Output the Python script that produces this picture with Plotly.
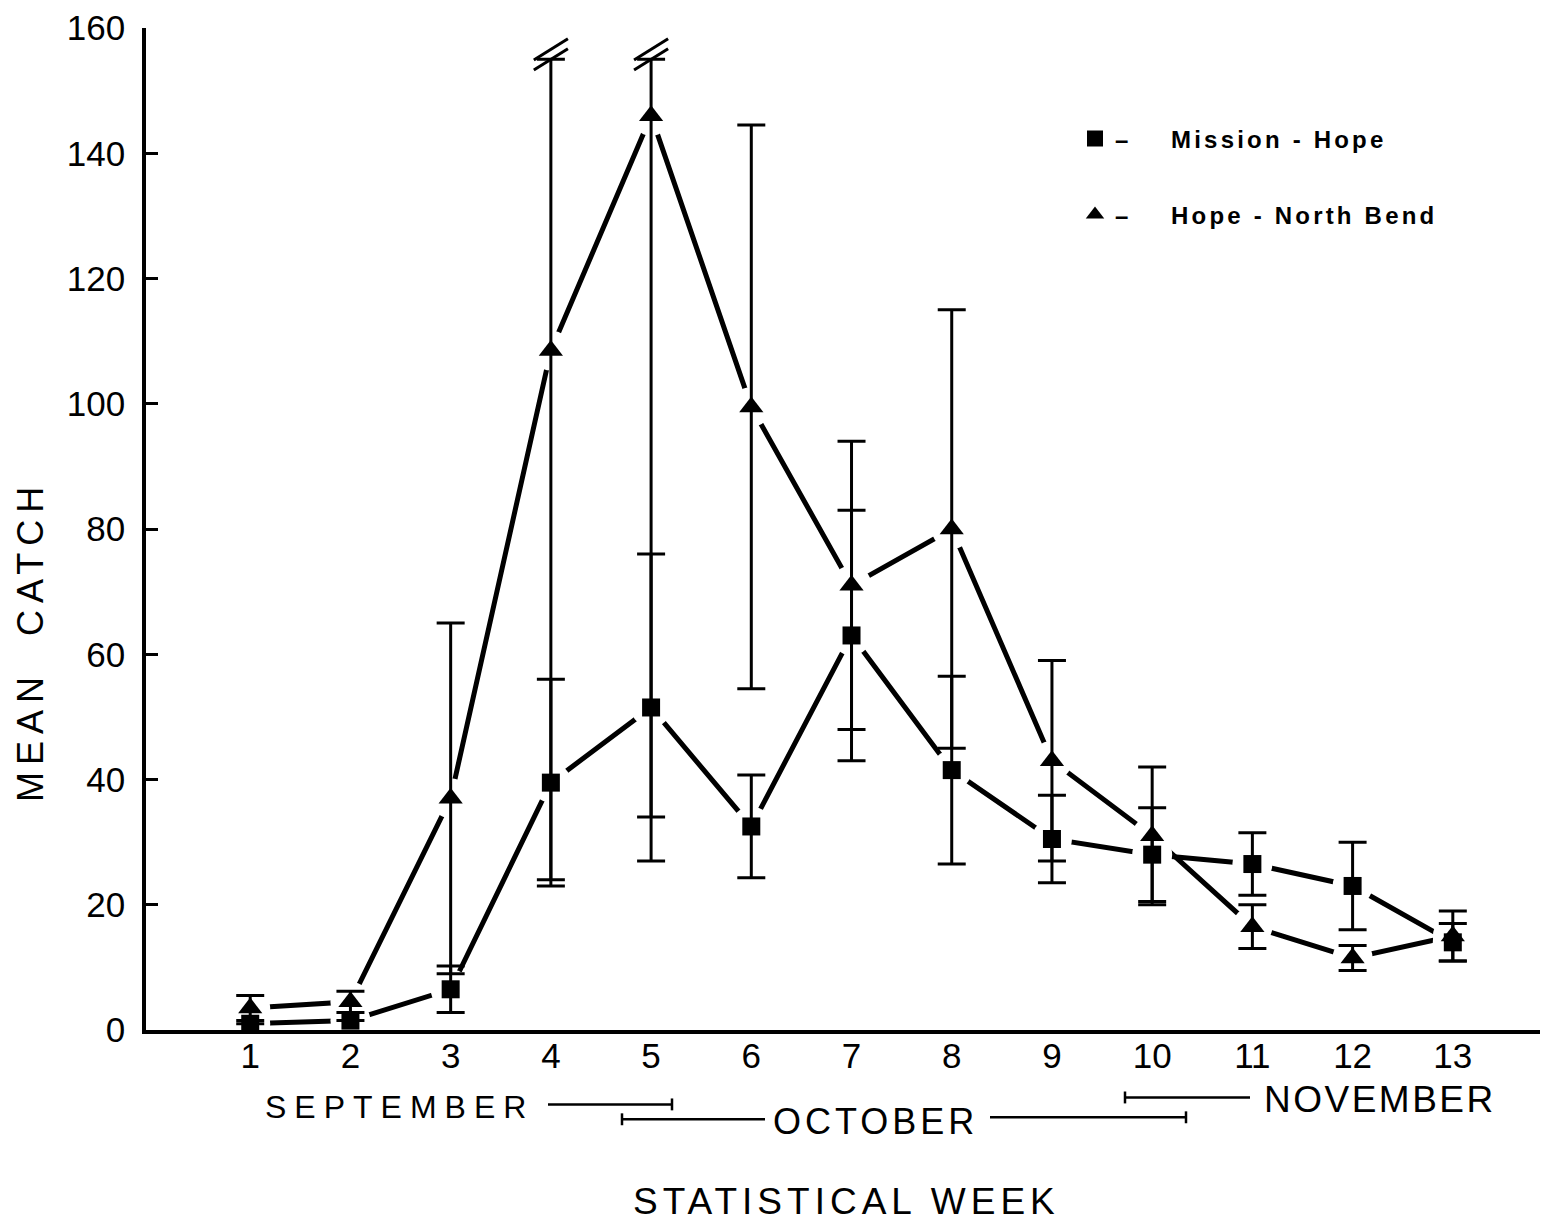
import plotly.graph_objects as go

# ---------------- data ----------------
weeks = list(range(1, 14))
week_labels = [str(w) for w in weeks]

mission_hope_mean = [1.0, 1.5, 6.5, 39.5, 51.5, 32.5, 63.0, 41.5, 30.5, 28.0, 26.5, 23.0, 14.0]
mission_hope_err = [0.0, 0.0, 3.7, 16.5, 24.5, 8.2, 20.0, 15.0, 7.0, 7.5, 5.0, 7.0, 3.0]

hope_nb_mean = [3.5, 4.5, 37.0, 108.5, 146.0, 99.5, 71.0, 80.0, 43.0, 31.0, 16.5, 11.5, 15.0]
hope_nb_err = [2.0, 1.7, 28.0, 84.5, 112.0, 45.0, 23.0, 35.0, 16.0, 11.0, 3.5, 2.0, 4.0]

y_ticks = [0, 20, 40, 60, 80, 100, 120, 140, 160]
axis_break = 155  # error bars above this value are drawn broken

# ---------------- geometry helpers (pixel -> paper) ----------------
W, H = 1548, 1225
ML, MR, MT, MB = 146, 8, 20, 195
PW, PH = W - ML - MR, H - MT - MB
X_RANGE = [-0.04, 13.87]
Y_RANGE = [0, 160]


def px(xp):
    return (xp - ML) / PW


def py(yp):
    return (H - MB - yp) / PH


FONT = "Liberation Sans, Arial, Helvetica, sans-serif"


def upper_err(means, errs):
    return [min(m + e, axis_break) - m for m, e in zip(means, errs)]


fig = go.Figure()

# connecting lines (bottom layer)
for means in (mission_hope_mean, hope_nb_mean):
    fig.add_trace(go.Scatter(x=weeks, y=means, mode="lines",
                             line=dict(color="black", width=5),
                             showlegend=False, hoverinfo="skip"))

# white halo producing gaps around markers
fig.add_trace(go.Scatter(x=weeks + weeks, y=mission_hope_mean + hope_nb_mean,
                         mode="markers",
                         marker=dict(symbol="circle", size=40, color="white",
                                     line=dict(width=0)),
                         showlegend=False, hoverinfo="skip"))

# markers with error bars
series = [
    ("Mission - Hope", mission_hope_mean, mission_hope_err, "square", 18),
    ("Hope - North Bend", hope_nb_mean, hope_nb_err, "triangle-up", 21),
]
for name, means, errs, sym, size in series:
    fig.add_trace(go.Scatter(
        x=weeks, y=means, mode="markers",
        marker=dict(symbol=sym, size=size, color="black"),
        error_y=dict(type="data", symmetric=False,
                     array=upper_err(means, errs), arrayminus=errs,
                     color="black", thickness=3, width=14),
        showlegend=False,
    ))

# legend entries (symbol only)
for name, means, errs, sym, size in series:
    fig.add_trace(go.Scatter(
        x=[None], y=[None], mode="markers",
        marker=dict(symbol=sym, size=17, color="black"),
        name='<span style="letter-spacing:3.2px">–&nbsp;&nbsp;&nbsp;&nbsp;' + name + '</span>',
        legendgroup=name, showlegend=True,
    ))

shapes = []
# axis break marks on the truncated error bars
for w in (4, 5):
    for yc in (axis_break, axis_break + 1.6):
        shapes.append(dict(type="line", xref="x", yref="y",
                           x0=w - 0.17, x1=w + 0.17, y0=yc - 1.7, y1=yc + 1.7,
                           line=dict(color="black", width=3)))


def bracket(x0p, x1p, yp, tick_at):
    shapes.append(dict(type="line", xref="paper", yref="paper",
                       x0=px(x0p), x1=px(x1p), y0=py(yp), y1=py(yp),
                       line=dict(color="black", width=2.5)))
    shapes.append(dict(type="line", xref="paper", yref="paper",
                       x0=px(tick_at), x1=px(tick_at), y0=py(yp - 6), y1=py(yp + 6),
                       line=dict(color="black", width=2.5)))


bracket(548, 672, 1105, 672)
bracket(622, 765, 1120, 622)
bracket(990, 1186, 1118, 1186)
bracket(1125, 1250, 1098, 1125)

annotations = [
    dict(text='<span style="letter-spacing:8px">SEPTEMBER</span>', x=px(399), y=py(1108),
         font=dict(size=32)),
    dict(text='<span style="letter-spacing:4px">OCTOBER</span>', x=px(875), y=py(1122),
         font=dict(size=36)),
    dict(text='<span style="letter-spacing:2.5px">NOVEMBER</span>', x=px(1380), y=py(1100),
         font=dict(size=37)),
    dict(text='<span style="letter-spacing:5px">STATISTICAL WEEK</span>', x=px(846), y=py(1203),
         font=dict(size=37)),
    dict(text='<span style="letter-spacing:7px">MEAN&nbsp;&nbsp;CATCH</span>', x=px(30), y=py(638),
         font=dict(size=36), textangle=-90),
]
for a in annotations:
    a.update(xref="paper", yref="paper", showarrow=False, xanchor="center", yanchor="middle")
    a["font"].update(family=FONT, color="black")

fig.update_layout(
    width=W, height=H,
    margin=dict(l=ML, r=MR, t=MT, b=MB, pad=0),
    paper_bgcolor="white", plot_bgcolor="white",
    font=dict(family=FONT, color="black"),
    shapes=shapes, annotations=annotations,
    legend=dict(x=px(1075), y=py(109), xanchor="left", yanchor="top",
                font=dict(size=24, family=FONT, color="black", weight="bold"),
                tracegroupgap=42, bgcolor="rgba(0,0,0,0)"),
    xaxis=dict(range=X_RANGE, tickvals=weeks, ticktext=week_labels,
               showline=True, linecolor="black", linewidth=3.5, ticks="",
               showgrid=False, zeroline=False, tickfont=dict(size=35),
               ticklabelstandoff=-8, layer="above traces"),
    yaxis=dict(range=Y_RANGE, tickvals=y_ticks, ticktext=[str(v) for v in y_ticks],
               showline=True, linecolor="black", linewidth=3.5,
               ticks="inside", ticklen=12, tickwidth=3, tickcolor="black",
               showgrid=False, zeroline=False, tickfont=dict(size=35),
               ticklabelstandoff=10, layer="above traces"),
)

fig.write_html("out.html")
